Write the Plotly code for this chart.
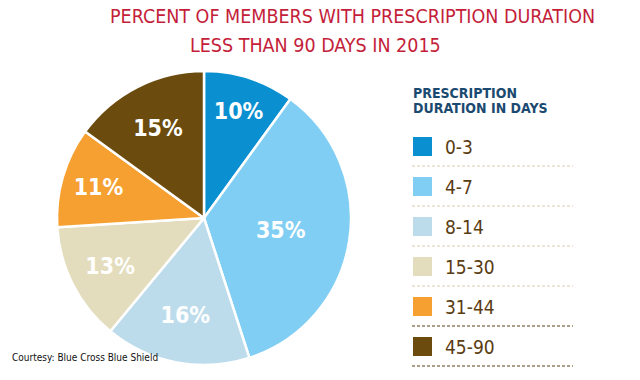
import plotly.graph_objects as go

categories = ["0-3", "4-7", "8-14", "15-30", "31-44", "45-90"]
percents = [10, 35, 16, 13, 11, 15]
colors = ["#0a8fd0", "#80cef3", "#bcdcec", "#e3dcbd", "#f5a031", "#6c4b0e"]
title_lines = ["PERCENT OF MEMBERS WITH PRESCRIPTION DURATION", "LESS THAN 90 DAYS IN 2015"]
legend_title = ["PRESCRIPTION", "DURATION IN DAYS"]
source = "Courtesy: Blue Cross Blue Shield"

# page body has an 8px default margin; work in page pixels and convert
OFF = 8
W, H = 640 - OFF, 380 - OFF
COND = "DejaVu Sans Condensed, Roboto, Arial"


def px(x):
    return (x - OFF) / W


def py(y):
    return 1 - (y - OFF) / H


fig = go.Figure()
cx, cy, r = 204, 218, 147
fig.add_trace(go.Pie(
    labels=categories, values=percents, sort=False, direction="clockwise", rotation=0,
    marker=dict(colors=colors, line=dict(color="white", width=2.5)),
    texttemplate="%{value}%", textposition="inside", insidetextorientation="horizontal",
    textfont=dict(color="white", size=23, family=COND, weight="bold"),
    domain=dict(x=[px(cx - r), px(cx + r)], y=[py(cy + r), py(cy - r)]),
    showlegend=False, hoverinfo="label+percent",
))

anns = []
anns.append(dict(x=px(108), y=py(16.5), text=title_lines[0], xanchor="left", yanchor="middle",
                 font=dict(family=COND, size=19.5, color="#c41e3a")))
anns.append(dict(x=px(188), y=py(45), text=title_lines[1], xanchor="left", yanchor="middle",
                 font=dict(family=COND, size=19.5, color="#c41e3a")))
anns.append(dict(x=px(411), y=py(93), text="<b>" + legend_title[0] + "</b>", xanchor="left", yanchor="middle",
                 font=dict(family=COND, size=14, color="#1b4a70")))
anns.append(dict(x=px(411), y=py(108), text="<b>" + legend_title[1] + "</b>", xanchor="left", yanchor="middle",
                 font=dict(family=COND, size=14, color="#1b4a70")))
anns.append(dict(x=px(10), y=py(357), text=source, xanchor="left", yanchor="middle",
                 font=dict(family=COND, size=10, color="#111111")))

shapes = []
for i, (cat, col) in enumerate(zip(categories, colors)):
    top = 137 + 40 * i
    shapes.append(dict(type="rect", xref="paper", yref="paper", x0=px(413), x1=px(432),
                       y0=py(top + 19), y1=py(top), fillcolor=col, line=dict(width=0)))
    anns.append(dict(x=px(443), y=py(top + 10), text=cat, xanchor="left", yanchor="middle",
                     font=dict(family=COND, size=19, color="#5a3c12")))
    lc = "#d9ccb0" if i < 4 else "#5a3c12"
    shapes.append(dict(type="line", xref="paper", yref="paper", x0=px(412), x1=px(573),
                       y0=py(top + 29), y1=py(top + 29), line=dict(color=lc, width=1, dash="3px,2px")))

for a in anns:
    a.update(xref="paper", yref="paper", showarrow=False)

fig.update_layout(width=W, height=H, margin=dict(l=0, r=0, t=0, b=0),
                  paper_bgcolor="white", plot_bgcolor="white",
                  annotations=anns, shapes=shapes)
fig.write_html("out.html")
